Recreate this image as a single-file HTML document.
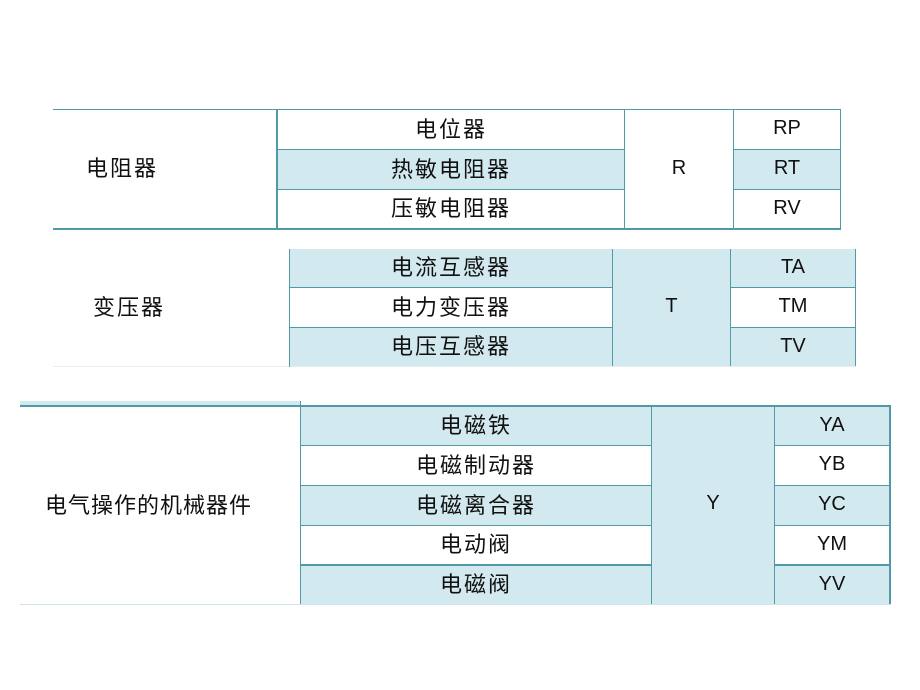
<!DOCTYPE html>
<html><head><meta charset="utf-8"><style>
body{margin:0;width:920px;height:690px;background:#fff;position:relative;overflow:hidden;font-family:"Liberation Sans","Noto Sans CJK SC",sans-serif;color:#111}
div.c{position:absolute;box-sizing:border-box;display:flex;align-items:center;justify-content:center;font-size:22px;letter-spacing:2px;padding-bottom:4px}
div.l{font-size:20px;letter-spacing:0;padding-bottom:2px}
div.s{justify-content:flex-start}
.b{background:#d3e9f0}
</style></head><body>
<!-- Table 1 -->
<div class="c" style="left:53px;top:109px;width:788px;height:1px;padding:0;background:#4f9aa6"></div>
<div class="c" style="left:53px;top:228px;width:788px;height:2px;padding:0;background:#4f9aa6"></div>
<div class="c s" style="left:53px;top:110px;width:223px;height:118px;padding-left:33px">电阻器</div>
<div class="c" style="left:276px;top:109px;width:2px;height:120px;padding:0;background:#4f9aa6"></div>
<div class="c" style="left:278px;top:110px;width:346px;height:39px">电位器</div>
<div class="c b" style="left:278px;top:149px;width:346px;height:41px;border-top:1px solid #4f9aa6;border-bottom:1px solid #4f9aa6">热敏电阻器</div>
<div class="c" style="left:278px;top:190px;width:346px;height:38px">压敏电阻器</div>
<div class="c l" style="left:624px;top:109px;width:110px;height:120px;border-left:1px solid #4f9aa6;border-right:1px solid #4f9aa6">R</div>
<div class="c l" style="left:734px;top:110px;width:107px;height:39px;border-right:1px solid #4f9aa6">RP</div>
<div class="c l b" style="left:734px;top:149px;width:107px;height:41px;border-top:1px solid #4f9aa6;border-bottom:1px solid #4f9aa6;border-right:1px solid #4f9aa6">RT</div>
<div class="c l" style="left:734px;top:190px;width:107px;height:38px;border-right:1px solid #4f9aa6">RV</div>
<!-- Table 2 -->
<div class="c s" style="left:53px;top:249px;width:236px;height:118px;padding-left:40px">变压器</div>
<div class="c" style="left:53px;top:366px;width:803px;height:1px;padding:0;background:#e6eef0"></div>
<div class="c" style="left:289px;top:249px;width:1px;height:118px;padding:0;background:#4f9aa6"></div>
<div class="c b" style="left:290px;top:249px;width:322px;height:39px;border-bottom:1px solid #4f9aa6">电流互感器</div>
<div class="c" style="left:290px;top:288px;width:322px;height:40px;border-bottom:1px solid #4f9aa6">电力变压器</div>
<div class="c b" style="left:290px;top:328px;width:322px;height:38px">电压互感器</div>
<div class="c l b" style="left:612px;top:249px;width:119px;height:117px;border-left:1px solid #4f9aa6;border-right:1px solid #4f9aa6">T</div>
<div class="c l b" style="left:731px;top:249px;width:125px;height:39px;border-bottom:1px solid #4f9aa6;border-right:1px solid #4f9aa6">TA</div>
<div class="c l" style="left:731px;top:288px;width:125px;height:40px;border-bottom:1px solid #4f9aa6;border-right:1px solid #4f9aa6">TM</div>
<div class="c l b" style="left:731px;top:328px;width:125px;height:38px;border-right:1px solid #4f9aa6">TV</div>
<!-- Table 3 -->
<div class="c b" style="left:20px;top:401px;width:280px;height:4px;padding:0"></div>
<div class="c s" style="left:20px;top:407px;width:280px;height:197px;padding-left:25px;letter-spacing:1px">电气操作的机械器件</div>
<div class="c" style="left:300px;top:401px;width:1px;height:204px;padding:0;background:#4f9aa6"></div>
<div class="c b" style="left:301px;top:407px;width:350px;height:39px;border-bottom:1px solid #4f9aa6">电磁铁</div>
<div class="c" style="left:301px;top:446px;width:350px;height:40px;border-bottom:1px solid #4f9aa6">电磁制动器</div>
<div class="c b" style="left:301px;top:486px;width:350px;height:40px;border-bottom:1px solid #4f9aa6">电磁离合器</div>
<div class="c" style="left:301px;top:526px;width:350px;height:40px;border-bottom:2px solid #4f9aa6">电动阀</div>
<div class="c b" style="left:301px;top:566px;width:350px;height:38px">电磁阀</div>
<div class="c l b" style="left:651px;top:405px;width:124px;height:199px;border-left:1px solid #4f9aa6;border-right:1px solid #4f9aa6">Y</div>
<div class="c l b" style="left:775px;top:407px;width:116px;height:39px;border-bottom:1px solid #4f9aa6;border-right:2px solid #4f9aa6">YA</div>
<div class="c l" style="left:775px;top:446px;width:116px;height:40px;border-bottom:1px solid #4f9aa6;border-right:2px solid #4f9aa6">YB</div>
<div class="c l b" style="left:775px;top:486px;width:116px;height:40px;border-bottom:1px solid #4f9aa6;border-right:2px solid #4f9aa6">YC</div>
<div class="c l" style="left:775px;top:526px;width:116px;height:40px;border-bottom:2px solid #4f9aa6;border-right:2px solid #4f9aa6">YM</div>
<div class="c l b" style="left:775px;top:566px;width:116px;height:38px;border-right:2px solid #4f9aa6">YV</div>
<div class="c" style="left:20px;top:405px;width:871px;height:2px;padding:0;background:#4f9aa6"></div>
<div class="c" style="left:20px;top:604px;width:871px;height:1px;padding:0;background:#cfe3e8"></div>
</body></html>
